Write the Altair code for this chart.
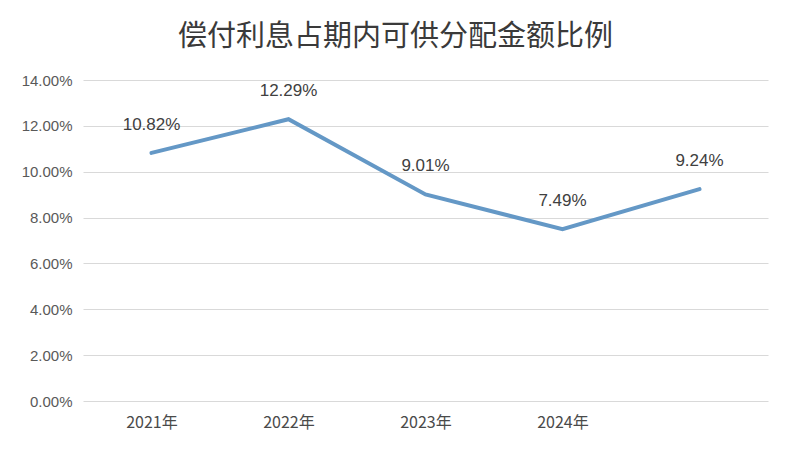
import altair as alt
import pandas as pd

categories = ["2021年", "2022年", "2023年", "2024年", " "]
values = [10.82, 12.29, 9.01, 7.49, 9.24]
labels = ["10.82%", "12.29%", "9.01%", "7.49%", "9.24%"]

df = pd.DataFrame({"cat": categories, "val": [v / 100 for v in values], "lab": labels})

x = alt.X("cat:N", sort=categories, title=None,
          scale=alt.Scale(paddingInner=0, paddingOuter=0),
          axis=alt.Axis(labelAngle=0, ticks=False, domain=False, grid=False,
                        labelFont="Noto Sans CJK SC", labelFontSize=16, labelColor="#4a4a4a",
                        labelPadding=13))
y = alt.Y("val:Q", title=None,
          scale=alt.Scale(domain=[0, 0.14], nice=False),
          axis=alt.Axis(format=".2%", values=[0, 0.02, 0.04, 0.06, 0.08, 0.10, 0.12, 0.14],
                        ticks=False, domain=False, gridColor="#d9d9d9", gridWidth=1.2,
                        labelFont="Liberation Sans", labelFontSize=15, labelColor="#595959",
                        labelPadding=11))

line = alt.Chart(df).mark_line(color="#6498C6", strokeWidth=4, strokeCap="round").encode(x=x, y=y)
text = alt.Chart(df).mark_text(dy=-28, fontSize=17, font="Liberation Sans", color="#404040").encode(
    x=alt.X("cat:N", sort=categories), y="val:Q", text="lab:N")

chart = (line + text).properties(
    width=685, height=321,
    autosize=alt.AutoSizeParams(type="none"),
    padding={"left": 75, "top": 72, "right": 17, "bottom": 43},
    background="white",
    title=alt.TitleParams("偿付利息占期内可供分配金额比例", font="Noto Sans CJK SC",
                          fontSize=29, fontWeight="normal", color="#3a3a3a",
                          anchor="middle", dx=-30, offset=21),
).configure_view(stroke=None)

chart.save("out.html", embed_options={"renderer": "svg", "actions": False})
